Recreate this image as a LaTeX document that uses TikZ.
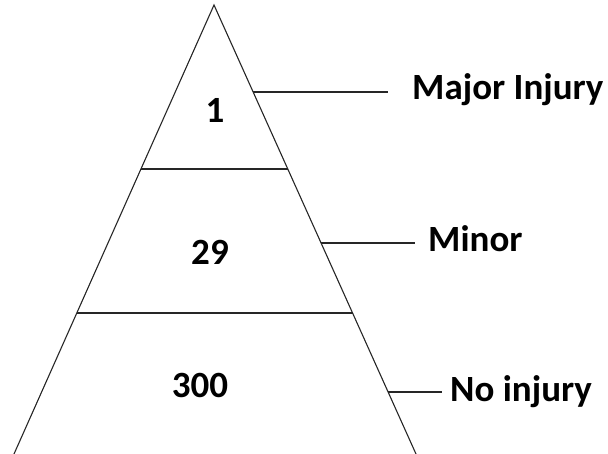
\documentclass[tikz,border=0pt]{standalone}
\usepackage{fontspec}
\setmainfont{Carlito}
\usetikzlibrary{calc}
\begin{document}
\begin{tikzpicture}[x=1pt,y=-1pt,
  edge/.style={line width=1.1pt,black!85},
  lbl/.style={inner sep=0pt,anchor=base west,font=\fontsize{37}{40}\selectfont\bfseries},
  num/.style={inner sep=0pt,anchor=base,font=\fontsize{37}{40}\selectfont\bfseries}]
\useasboundingbox (0,0) rectangle (608,454);
\coordinate (apex) at (214,5);
\coordinate (bl) at (14,454);
\coordinate (br) at (416,454);
\draw[edge] (bl) -- (apex) -- (br);
% dividers
\coordinate (d1l) at ($(apex)!{164/449}!(bl)$);
\coordinate (d1r) at ($(apex)!{164/449}!(br)$);
\coordinate (d2l) at ($(apex)!{308/449}!(bl)$);
\coordinate (d2r) at ($(apex)!{308/449}!(br)$);
\draw[edge] (d1l) -- (d1r);
\draw[edge] (d2l) -- (d2r);
% leader starts on right side
\coordinate (s1) at ($(apex)!{87/449}!(br)$);
\coordinate (s2) at ($(apex)!{238/449}!(br)$);
\coordinate (s3) at ($(apex)!{387/449}!(br)$);
\coordinate (e1) at (388,92);
\coordinate (e2) at (415,243);
\coordinate (e3) at (442,392);
\draw[edge] (s1) -- (s1 -| e1);
\draw[edge] (s2) -- (s2 -| e2);
\draw[edge] (s3) -- (s3 -| e3);
% labels
\node[lbl] (major) at (412,100) {Major Injury};
\node[lbl] (minor) at (428,252) {Minor};
\node[lbl] (noinj) at (450,402) {No injury};
% numbers
\node[num] (n1) at (215,123) {1};
\node[num] (n29) at (210,265) {29};
\node[num] (n300) at (200,397) {300};
\end{tikzpicture}
\end{document}
